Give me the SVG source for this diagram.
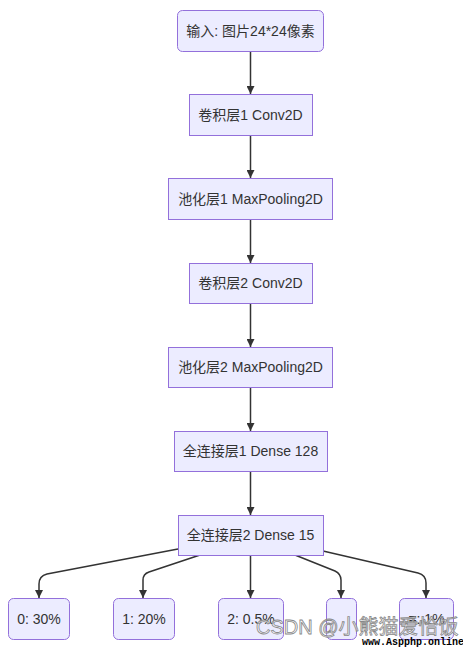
<svg xmlns="http://www.w3.org/2000/svg" width="463" height="648" viewBox="0 0 463 648">
<style>
.node rect{fill:#ECECFF;stroke:#9370DB;stroke-width:1}
.node text{font-family:"Liberation Sans","Noto Sans CJK SC",sans-serif;font-size:14px;fill:#333;text-anchor:middle}
.edge{fill:none;stroke:#333;stroke-width:1.5;marker-end:url(#arr)}
.wm{font-family:"Liberation Sans","Noto Sans CJK SC",sans-serif;font-size:20px;fill:#fff;fill-opacity:0.6;stroke:#888;stroke-width:0.8}
.wm2{font-family:"Liberation Mono",monospace;font-size:10px;font-weight:bold;fill:#000}
</style>
<defs>
<marker id="arr" viewBox="0 0 10 10" refX="10" refY="5" markerWidth="8" markerHeight="8" markerUnits="userSpaceOnUse" orient="auto">
<path d="M0,0 L10,5 L0,10 z" fill="#333"/>
</marker>
</defs>
<rect width="463" height="648" fill="#fff"/>
<g id="connectors">
<path class="edge" d="M250.5,51 L250.5,94"/>
<path class="edge" d="M250.5,135 L250.5,178"/>
<path class="edge" d="M250.5,219 L250.5,263"/>
<path class="edge" d="M250.5,303 L250.5,347"/>
<path class="edge" d="M250.5,387 L250.5,431"/>
<path class="edge" d="M250.5,471 L250.5,515"/>
<path class="edge" d="M178,549 L47,574 Q39,576 39,584 L39,598"/>
<path class="edge" d="M200,555 L149,572 Q143,574 143,580 L143,598"/>
<path class="edge" d="M250.5,555 L250.5,598"/>
<path class="edge" d="M295,555 L335,571 Q341,574 341,580 L341,598"/>
<path class="edge" d="M323,551 L418,573 Q426,575 426,583 L426,598"/>
</g>
<g id="n_input" class="node"><rect x="177.5" y="10.5" width="146" height="41" rx="5"/><text x="250.5" y="35.5">输入: 图片24*24像素</text></g>
<g id="n_conv1" class="node"><rect x="189.5" y="94.5" width="123" height="41"/><text x="250.5" y="119.5">卷积层1 Conv2D</text></g>
<g id="n_pool1" class="node"><rect x="168.5" y="178.5" width="164" height="41"/><text x="250.5" y="203.5">池化层1 MaxPooling2D</text></g>
<g id="n_conv2" class="node"><rect x="189.5" y="263.5" width="123" height="40"/><text x="250.5" y="288">卷积层2 Conv2D</text></g>
<g id="n_pool2" class="node"><rect x="168.5" y="347.5" width="164" height="40"/><text x="250.5" y="372">池化层2 MaxPooling2D</text></g>
<g id="n_fc1" class="node"><rect x="174.5" y="431.5" width="153" height="40"/><text x="250.5" y="456">全连接层1 Dense 128</text></g>
<g id="n_fc2" class="node"><rect x="178.5" y="515.5" width="145" height="40"/><text x="250.5" y="540">全连接层2 Dense 15</text></g>
<g id="n_o0" class="node"><rect x="8.5" y="598.5" width="61" height="41" rx="5"/><text x="39" y="623.5">0: 30%</text></g>
<g id="n_o1" class="node"><rect x="113.5" y="598.5" width="61" height="41" rx="5"/><text x="144" y="623.5">1: 20%</text></g>
<g id="n_o2" class="node"><rect x="218.5" y="598.5" width="65" height="41" rx="5"/><text x="251" y="623.5">2: 0.5%</text></g>
<g id="n_o3" class="node"><rect x="326.5" y="598.5" width="30" height="41" rx="5"/></g>
<g id="n_o4" class="node"><rect x="399.5" y="598.5" width="54" height="41" rx="5"/><text x="426.5" y="623.5">=: 1%</text></g>
<text class="wm" x="256" y="634">CSDN @小熊猫爱恰饭</text>
<text class="wm2" x="362" y="645">www.Aspphp.online</text>
</svg>
